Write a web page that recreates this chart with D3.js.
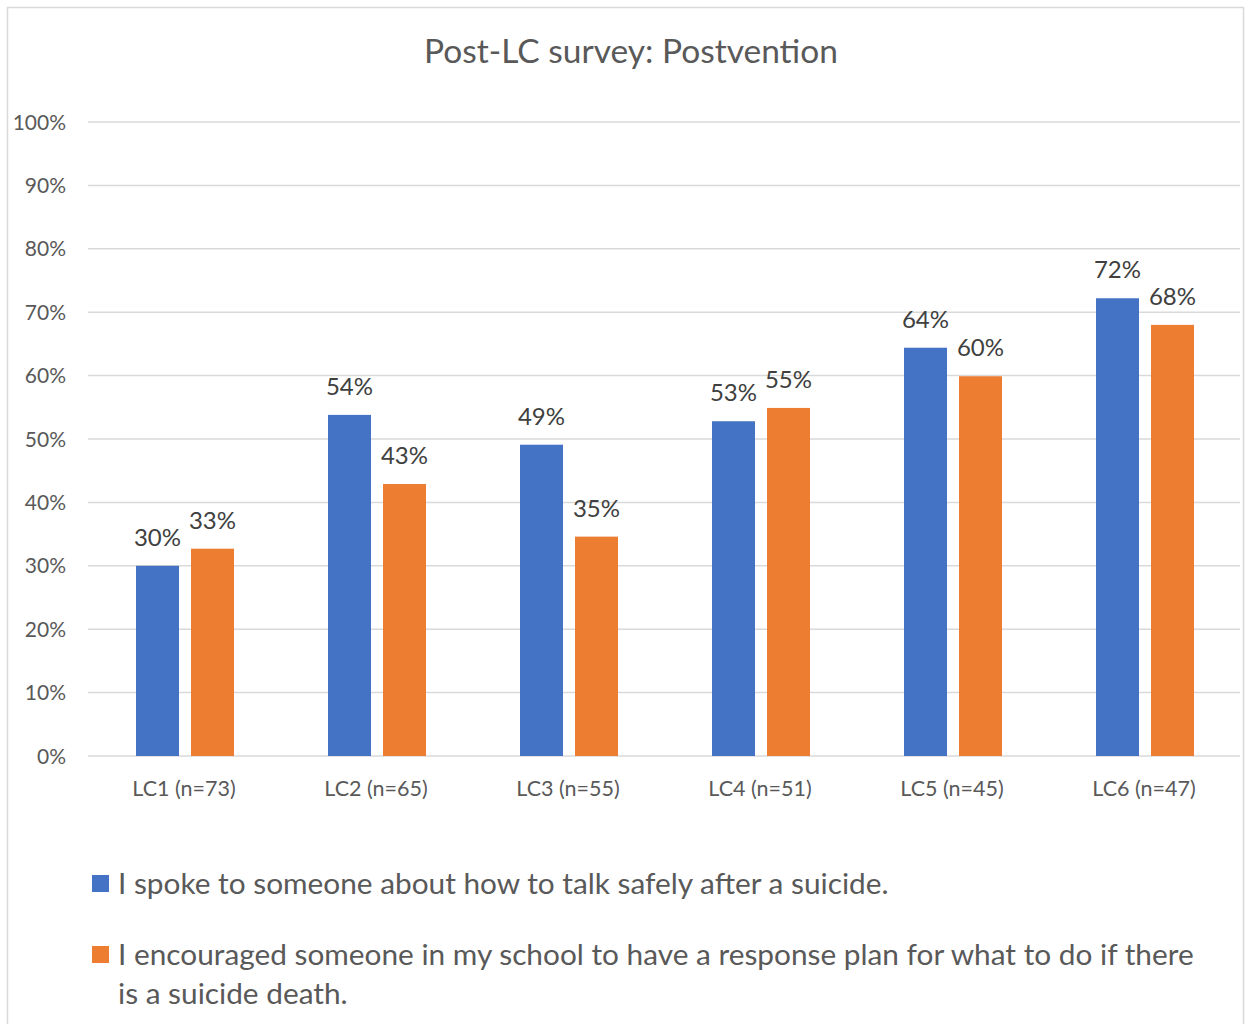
<!DOCTYPE html>
<html>
<head>
<meta charset="UTF-8">
<title>Post-LC survey: Postvention</title>
<style>
  body { margin: 0; background: #fff; }
  text { font-family: Lato, "Open Sans", sans-serif; fill: #595959; }
</style>
</head>
<body>
<div id="app"></div>
<script src="https://d3js.org/d3.v7.min.js"></script>
<script>
  let categories = ['LC1 (n=73)', 'LC2 (n=65)', 'LC3 (n=55)', 'LC4 (n=51)', 'LC5 (n=45)', 'LC6 (n=47)']
  let spokeValues = [30.0, 53.8, 49.1, 52.8, 64.4, 72.2]
  let planValues = [32.7, 42.9, 34.6, 54.9, 59.9, 68.0]
  let seriesNames = [
    'I spoke to someone about how to talk safely after a suicide.',
    'I encouraged someone in my school to have a response plan for what to do if there is a suicide death.'
  ]
  let colors = ['#4472C4', '#ED7D31']
  let yTicks = [0, 10, 20, 30, 40, 50, 60, 70, 80, 90, 100]

  let W = 1253
  let H = 1024
  let plotLeft = 88, plotRight = 1240, plotTop = 122, plotBottom = 756

  let svg = d3.select('#app').append('svg')
    .attr('width', W)
    .attr('height', H)

  // chart frame
  svg.append('rect')
    .attr('x', 7.5).attr('y', 7.5)
    .attr('width', 1236).attr('height', 1030)
    .attr('fill', 'none').attr('stroke', '#d9d9d9').attr('stroke-width', 1.5)

  svg.append('text')
    .attr('x', 631).attr('y', 63)
    .attr('text-anchor', 'middle')
    .style('font-size', '33.5px')
    .text('Post-LC survey: Postvention')

  let x = d3.scaleBand().domain(categories).range([plotLeft, plotRight])
  let xSub = d3.scaleBand().domain([0, 1]).range([0, 98]).paddingInner(0.218)
  let y = d3.scaleLinear().domain([0, 100]).range([plotBottom, plotTop])

  // gridlines
  svg.append('g').selectAll('line')
    .data(yTicks).enter()
    .append('line')
    .attr('x1', plotLeft).attr('x2', plotRight)
    .attr('y1', d => y(d)).attr('y2', d => y(d))
    .attr('stroke', '#d9d9d9').attr('stroke-width', 1.5)

  svg.append('g').selectAll('text')
    .data(yTicks).enter()
    .append('text')
    .attr('x', 66).attr('y', d => y(d) + 7.5)
    .attr('text-anchor', 'end')
    .style('font-size', '21px')
    .text(d => d + '%')

  svg.append('g').selectAll('text')
    .data(categories).enter()
    .append('text')
    .attr('x', d => x(d) + x.bandwidth() / 2)
    .attr('y', 796)
    .attr('text-anchor', 'middle')
    .style('font-size', '21.5px')
    .text(d => d)

  let series = [spokeValues, planValues]
  series.forEach((vals, s) => {
    let g = svg.append('g')
    let off = x.bandwidth() / 2 - 48
    g.selectAll('rect')
      .data(vals).enter()
      .append('rect')
      .attr('x', (d, i) => x(categories[i]) + off + xSub(s))
      .attr('y', d => y(d))
      .attr('width', xSub.bandwidth())
      .attr('height', d => plotBottom - y(d))
      .attr('fill', colors[s])
    g.selectAll('text')
      .data(vals).enter()
      .append('text')
      .attr('x', (d, i) => x(categories[i]) + off + xSub(s) + xSub.bandwidth() / 2)
      .attr('y', d => y(d) - 20)
      .attr('text-anchor', 'middle')
      .style('font-size', '24px')
      .style('fill', '#404040')
      .text(d => Math.round(d) + '%')
  })

  // legend
  let legendRows = [[seriesNames[0]], ['I encouraged someone in my school to have a response plan for what to do if there', 'is a suicide death.']]
  let legendY = [884, 955]
  legendRows.forEach((lines, s) => {
    svg.append('rect')
      .attr('x', 92).attr('y', legendY[s] - 9)
      .attr('width', 17).attr('height', 17)
      .attr('fill', colors[s])
    lines.forEach((ln, j) => {
      svg.append('text')
        .attr('x', 118).attr('y', legendY[s] + 10 + j * 39)
        .style('font-size', '29.8px')
        .text(ln)
    })
  })
</script>
</body>
</html>
